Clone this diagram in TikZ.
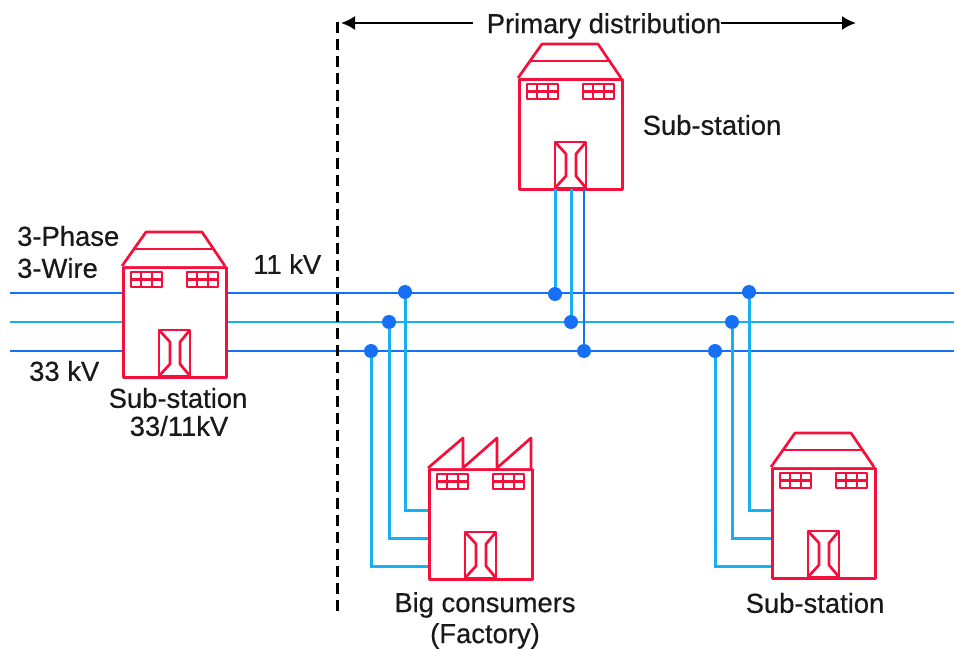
\documentclass[tikz,border=0pt]{standalone}
\usepackage{fontspec}
\setmainfont{Liberation Sans}
\newfontfamily\lblfont{Liberation Sans}[FakeBold=0.5]
\usetikzlibrary{arrows.meta}
\definecolor{redb}{HTML}{F5103C}
\definecolor{busblue}{HTML}{1570F5}
\definecolor{buscyan}{HTML}{18B0F0}
\tikzset{
  x=1pt,y=-1pt,
  wall/.style={draw=redb,line width=2.7pt,line join=round,fill=white},
  thin wall/.style={draw=redb,line width=2.2pt,line join=round},
  bus/.style={draw=busblue,line width=2.7pt},
  midbus/.style={draw=buscyan,line width=2.8pt},
  feed/.style={draw=buscyan,line width=3pt},
  dot/.style={circle,fill=busblue,inner sep=0pt,minimum size=14pt},
  lbl/.style={font=\lblfont\fontsize{27.4}{31}\selectfont,text=black!90,inner sep=0pt,align=center},
  body/.style={wall,rectangle,minimum width=103pt,minimum height=110pt,inner sep=0pt,anchor=north west},
  pics/front/.style={code={
    \foreach \wx in {9,65}{
      \draw[thin wall] (\wx,6) rectangle ++(31,15);
      \draw[thin wall] (\wx+10.3,6) -- ++(0,15) (\wx+20.6,6) -- ++(0,15) (\wx,13.5) -- ++(31,0);
    }
    \draw[wall] (37,64) rectangle (68,110);
    \draw[wall,fill=none] (37,64) -- (48,76) -- (48,98) -- (37,110)
      (68,64) -- (58,76) -- (58,98) -- (68,110);
  }},
  pics/gable/.style={code={
    \draw[wall] (0,0) -- (24,-34) -- (80,-34) -- (103,0);
    \draw[thin wall] (12,-17) -- (91,-17);
  }},
  pics/saw/.style={code={
    \draw[wall] (0,0) -- (35,-30) -- (35,0) -- (69,-30) -- (69,0) -- (103,-30) -- (103,0);
  }}
}
\begin{document}
\begin{tikzpicture}
\useasboundingbox (0,0) rectangle (954,650);
% bus end points
\coordinate (a1) at (10,293); \coordinate (a2) at (10,322); \coordinate (a3) at (10,351);
\coordinate (b1) at (122,293); \coordinate (b2) at (122,322); \coordinate (b3) at (122,351);
\coordinate (c1) at (224,293); \coordinate (c2) at (224,322); \coordinate (c3) at (224,351);
\coordinate (e1) at (954,293); \coordinate (e2) at (954,322); \coordinate (e3) at (954,351);
\draw[bus] (a1) -- (b1); \draw[midbus] (a2) -- (b2); \draw[bus] (a3) -- (b3);
\draw[bus] (c1) -- (e1); \draw[midbus] (c2) -- (e2); \draw[bus] (c3) -- (e3);
% junctions
\node[dot] (f1) at (405,292) {}; \node[dot] (f2) at (389,322) {}; \node[dot] (f3) at (371,351) {};
\node[dot] (t1) at (555,294) {}; \node[dot] (t2) at (571,322) {}; \node[dot] (t3) at (584,351) {};
\node[dot] (r1) at (749,292) {}; \node[dot] (r2) at (732,322) {}; \node[dot] (r3) at (715,351) {};
% buildings
\node[body] (stnL) at (122,266) {};
\node[body] (stnT) at (518,78) {};
\node[body] (fac) at (428,468) {};
\node[body] (stnR) at (771,467) {};
\pic at (122,266) {gable}; \pic at (518,78) {gable}; \pic at (771,467) {gable};
\pic at (428,468) {saw};
\pic at (122,266) {front}; \pic at (518,78) {front}; \pic at (428,468) {front}; \pic at (771,467) {front};
% feeders
\coordinate (ft1) at (428,510); \coordinate (ft2) at (428,538); \coordinate (ft3) at (428,566);
\coordinate (rt1) at (771,510); \coordinate (rt2) at (771,538); \coordinate (rt3) at (771,566);
\coordinate (tt1) at (555,189); \coordinate (tt2) at (571,189); \coordinate (tt3) at (584,189);
\draw[feed] (f1) |- (ft1); \draw[feed] (f2) |- (ft2); \draw[feed] (f3) |- (ft3);
\draw[feed] (r1) |- (rt1); \draw[feed] (r2) |- (rt2); \draw[feed] (r3) |- (rt3);
\draw[feed] (t1) -- (tt1); \draw[feed] (t2) -- (tt2); \draw[bus] (t3) -- (tt3);
% boundary
\coordinate (dtop) at (337,22); \coordinate (dbot) at (337,612);
\draw[black,line width=3pt,dash pattern=on 11pt off 6pt] (dtop) -- (dbot);
% span arrow
\node[lbl,anchor=center] (pd) at (604,26) {Primary distribution};
\coordinate (pl) at (341,23); \coordinate (pr) at (856,23);
\draw[-{Latex[length=14pt,width=14pt]},black,line width=2pt] (pd.west)+(-14,-3) -- (pl);
\draw[-{Latex[length=14pt,width=14pt]},black,line width=2pt] (pd.east)+(0,-3) -- (pr);
% labels
\node[lbl,anchor=west] (l1) at (17,236) {3-Phase};
\node[lbl,anchor=west] (l2) at (17,268) {3-Wire};
\node[lbl,anchor=west] (l3) at (29,371) {33 kV};
\node[lbl,anchor=west] (l4) at (253,264) {11 kV};
\node[lbl] (l5) at (178,398) {Sub-station};
\node[lbl] (l6) at (179,426) {33/11kV};
\node[lbl] (l7) at (712,125) {Sub-station};
\node[lbl] (l8) at (485,605) {Big consumers};
\node[lbl] (l9) at (485,636) {(Factory)};
\node[lbl] (l10) at (815,603) {Sub-station};
\end{tikzpicture}
\end{document}
